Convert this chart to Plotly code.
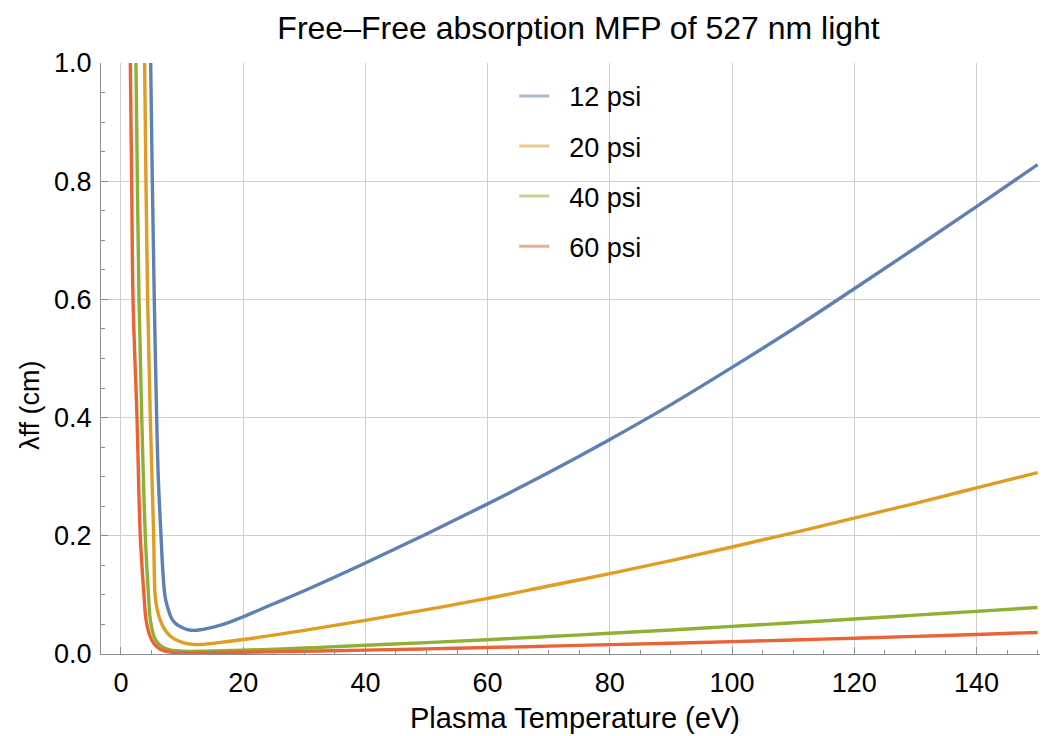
import plotly.graph_objects as go

# ---- data ----
series_names = ["12 psi", "20 psi", "40 psi", "60 psi"]

temp_12 = [4.86, 5.13, 5.45, 5.84, 6.1, 6.55, 6.85, 7.2, 7.6, 8.3, 9.0, 10.0, 11.0, 12.0, 13.0, 14, 17, 20, 25, 30,
           40, 50, 60, 70, 80, 90, 100, 110, 120, 130, 140, 150]
mfp_12 = [1.0, 0.8, 0.6, 0.4, 0.3, 0.2, 0.14, 0.098, 0.08, 0.060, 0.051, 0.045, 0.041, 0.040, 0.041, 0.043, 0.051, 0.063, 0.085, 0.107,
          0.154, 0.203, 0.254, 0.307, 0.363, 0.422, 0.485, 0.550, 0.618, 0.687, 0.757, 0.828]

temp_20 = [3.87, 4.09, 4.36, 4.8, 5.35, 5.6, 6.0, 6.4, 7.0, 8.0, 9.0, 10, 11, 12, 13, 15, 20, 30,
           40, 50, 60, 70, 80, 90, 100, 110, 120, 130, 140, 150]
mfp_20 = [1.0, 0.8, 0.6, 0.4, 0.2, 0.098, 0.072, 0.058, 0.044, 0.031, 0.024, 0.020, 0.017, 0.016, 0.016, 0.018, 0.0245, 0.040,
          0.057, 0.075, 0.094, 0.115, 0.136, 0.158, 0.181, 0.205, 0.230, 0.255, 0.281, 0.307]

temp_40 = [2.45, 2.68, 2.95, 3.4, 3.98, 4.5, 4.8, 5.4, 6.0, 6.65, 8, 9.5, 11, 13, 15, 20, 30,
           40, 50, 60, 70, 80, 90, 100, 110, 120, 130, 140, 150]
mfp_40 = [1.0, 0.8, 0.6, 0.4, 0.2, 0.1, 0.058, 0.03, 0.019, 0.013, 0.007, 0.0052, 0.0045, 0.0046, 0.005, 0.0064, 0.0101,
          0.0148, 0.0193, 0.0242, 0.0295, 0.0350, 0.0407, 0.0467, 0.0528, 0.0592, 0.0657, 0.0722, 0.0788]

temp_60 = [1.53, 1.75, 1.97, 2.62, 3.16, 3.76, 4.1, 4.75, 5.3, 5.8, 6.5, 7.5, 10, 15, 20, 30,
           40, 50, 60, 70, 80, 90, 100, 110, 120, 130, 140, 150]
mfp_60 = [1.0, 0.8, 0.6, 0.4, 0.2, 0.1, 0.058, 0.03, 0.019, 0.013, 0.0075, 0.004, 0.002, 0.0022, 0.003, 0.0046,
          0.0066, 0.0087, 0.0109, 0.0133, 0.0158, 0.0183, 0.0209, 0.0237, 0.0267, 0.0298, 0.0331, 0.0365]

x_ticks = [0, 20, 40, 60, 80, 100, 120, 140]
y_ticks = [0.0, 0.2, 0.4, 0.6, 0.8, 1.0]
y_tick_labels = ["0.0", "0.2", "0.4", "0.6", "0.8", "1.0"]

colors = ["#5E81B5", "#E19C24", "#8FB032", "#EB6235"]
legend_colors = ["rgba(94,129,181,0.55)", "rgba(225,156,36,0.55)",
                 "rgba(143,176,50,0.55)", "rgba(235,98,53,0.55)"]

temps = [temp_12, temp_20, temp_40, temp_60]
mfps = [mfp_12, mfp_20, mfp_40, mfp_60]

FONT = "Liberation Sans, Arial, sans-serif"

fig = go.Figure()
for i in range(4):
    fig.add_trace(go.Scatter(
        x=temps[i], y=mfps[i], mode="lines",
        line=dict(color=colors[i], width=3.4, shape="spline", smoothing=1.0),
        showlegend=False, hoverinfo="skip"))
for i in range(4):
    fig.add_trace(go.Scatter(
        x=[None], y=[None], mode="lines", name="\u00a0\u00a0" + series_names[i],
        line=dict(color=legend_colors[i], width=3),
        legendgroup=f"g{i}", showlegend=True))

fig.update_layout(
    width=1050, height=736,
    margin=dict(l=101, r=10, t=63, b=82),
    paper_bgcolor="white", plot_bgcolor="white",
    font=dict(family=FONT, color="black", size=26),
    title=dict(text="Free\u2013Free absorption MFP of 527 nm light",
               x=0.551, xanchor="center", y=1 - 28 / 736, yanchor="middle",
               font=dict(size=32, family=FONT, color="black")),
    legend=dict(x=0.44, xanchor="left", y=0.985, yanchor="top",
                bgcolor="rgba(0,0,0,0)", font=dict(size=27, family=FONT, color="black"),
                tracegroupgap=12),
    showlegend=True,
)

fig.update_xaxes(
    range=[-3.27, 150.4], tickvals=x_ticks, automargin=False,
    showline=True, linecolor="#8c8c8c", linewidth=1,
    ticks="inside", ticklen=7, tickcolor="#8c8c8c", tickwidth=1,
    minor=dict(dtick=5, tick0=0, ticks="inside", ticklen=4, tickcolor="#8c8c8c", showgrid=False),
    showgrid=True, gridcolor="#cfcfcf", gridwidth=1,
    zeroline=False,
    tickfont=dict(size=27, family=FONT, color="black"),
    ticklabelstandoff=5,
)
fig.update_yaxes(
    range=[0, 1.0], tickvals=y_ticks, ticktext=y_tick_labels, automargin=False,
    showline=True, linecolor="#8c8c8c", linewidth=1,
    ticks="inside", ticklen=7, tickcolor="#8c8c8c", tickwidth=1,
    minor=dict(dtick=0.05, tick0=0, ticks="inside", ticklen=4, tickcolor="#8c8c8c", showgrid=False),
    showgrid=True, gridcolor="#cfcfcf", gridwidth=1,
    zeroline=False,
    tickfont=dict(size=27, family=FONT, color="black"),
    ticklabelstandoff=3,
)

# axis titles as annotations (placed as in the reference)
fig.add_annotation(
    text="Plasma Temperature (eV)", xref="paper", yref="paper",
    x=(575 - 101) / 939, y=-(718 - 654) / 591, xanchor="center", yanchor="middle",
    showarrow=False, font=dict(size=29, family=FONT, color="black"))
fig.add_annotation(
    text="\u03bbff (cm)", textangle=-90, xref="paper", yref="paper",
    x=-(101 - 30) / 939, y=(654 - 405) / 591, xanchor="center", yanchor="middle",
    showarrow=False, font=dict(size=27, family=FONT, color="black"))

fig.write_html("out.html", config={"displayModeBar": False},
               post_script="document.body.style.margin='0';")
